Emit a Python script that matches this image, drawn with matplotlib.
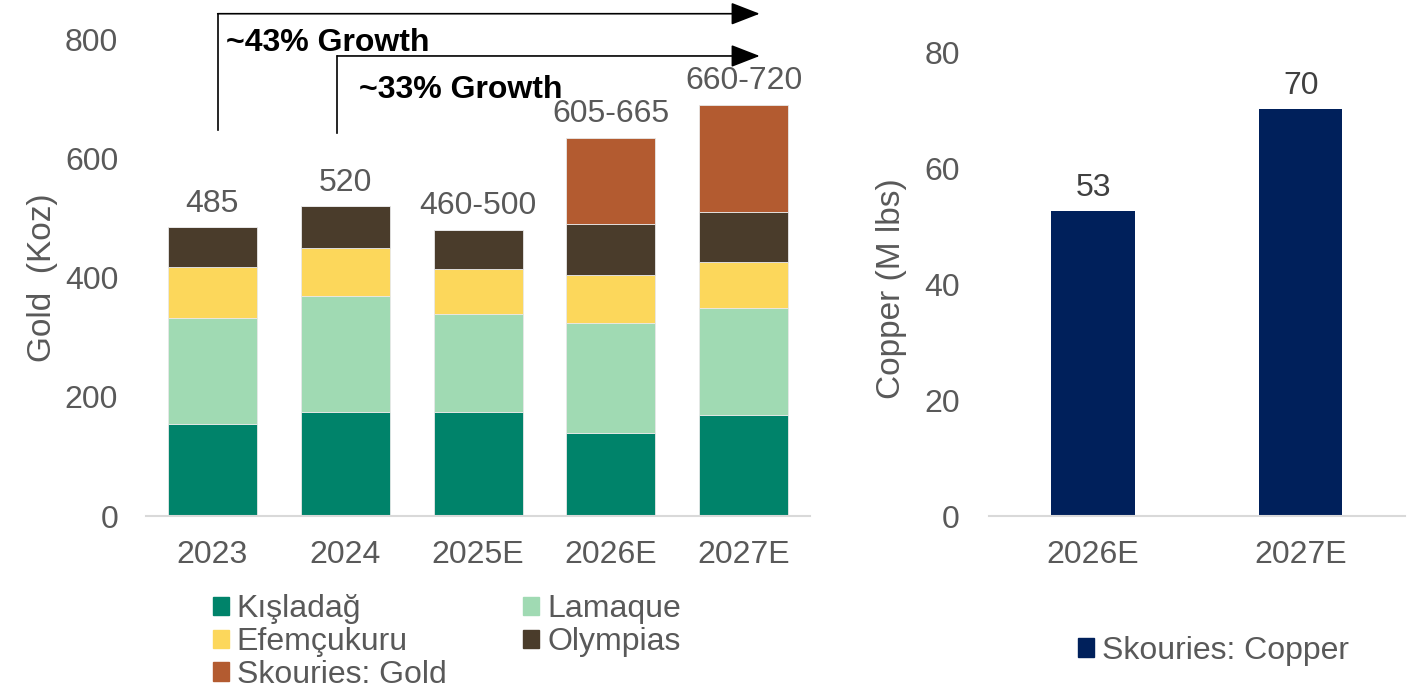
import numpy as np
import matplotlib.pyplot as plt
from matplotlib.patches import Patch

plt.rcParams['font.family'] = ['Liberation Sans', 'DejaVu Sans']

# gold production (Koz)
years = ['2023', '2024', '2025E', '2026E', '2027E']
kisladag = [155, 174, 174, 140, 170]
lamaque = [177, 196, 165, 185, 180]
efemcukuru = [86, 80, 76, 80, 76]
olympias = [67, 71, 66, 86, 85]
skouries_gold = [0, 0, 0, 145, 180]
gold_labels = ['485', '520', '460-500', '605-665', '660-720']

# copper production (M lbs)
cu_years = ['2026E', '2027E']
skouries_cu = [52.6, 70.2]
cu_labels = ['53', '70']

C_KIS = '#00836A'
C_LAM = '#A0DAB3'
C_EFE = '#FCD75B'
C_OLY = '#4A3C2B'
C_SKG = '#B35B30'
C_CU = '#00205B'
GREY = '#595959'
FS = 23

fig = plt.figure(figsize=(14.09, 6.88), dpi=100)
ax1 = fig.add_axes([0.1036, 0.25, 0.4714, 0.692])
ax2 = fig.add_axes([0.702, 0.25, 0.295, 0.674])

x = np.arange(len(years))
bottom = np.zeros(len(years))
series = [(kisladag, C_KIS, 'Kışladağ'), (lamaque, C_LAM, 'Lamaque'),
          (efemcukuru, C_EFE, 'Efemçukuru'), (olympias, C_OLY, 'Olympias'),
          (skouries_gold, C_SKG, 'Skouries: Gold')]
for vals, col, name in series:
    ax1.bar(x, vals, 0.67, bottom=bottom, color=col, edgecolor='#e8e8e8', linewidth=0.6)
    bottom += np.array(vals)

for xi, tot, lab in zip(x, bottom, gold_labels):
    ax1.annotate(lab, (xi, tot), xytext=(0, 6), textcoords='offset points',
                 ha='center', va='bottom', fontsize=FS, color=GREY)

ax1.set_xlim(-0.5, 4.5)
ax1.set_ylim(0, 800)
ax1.set_yticks([0, 200, 400, 600, 800])
ax1.set_xticks(x)
ax1.set_xticklabels(years)
ax1.set_ylabel('Gold  (Koz)', fontsize=24, color=GREY)
ax1.yaxis.set_label_coords(-0.133, 0.5)

# growth arrows
ax1.plot([0.04, 0.04], [649, 844], color='black', lw=1.2, clip_on=False)
ax1.annotate('', xy=(4.12, 844), xytext=(0.04, 844), annotation_clip=False,
             arrowprops=dict(arrowstyle='-|>,head_length=0.9,head_width=0.35',
                             color='black', lw=1.2, mutation_scale=20, shrinkA=0, shrinkB=0))
ax1.plot([0.94, 0.94], [644, 773], color='black', lw=1.2, clip_on=False)
ax1.annotate('', xy=(4.12, 773), xytext=(0.94, 773), annotation_clip=False,
             arrowprops=dict(arrowstyle='-|>,head_length=0.9,head_width=0.35',
                             color='black', lw=1.2, mutation_scale=20, shrinkA=0, shrinkB=0))
ax1.text(0.1, 795, '~43% Growth', fontsize=FS, fontweight='bold', va='center', ha='left')
ax1.text(1.1, 716, '~33% Growth', fontsize=FS, fontweight='bold', va='center', ha='left')

xc = np.arange(len(cu_years))
ax2.bar(xc, skouries_cu, 0.40, color=C_CU)
for xi, v, lab in zip(xc, skouries_cu, cu_labels):
    ax2.annotate(lab, (xi, v), xytext=(0, 6), textcoords='offset points',
                 ha='center', va='bottom', fontsize=FS, color='#404040')
ax2.set_xlim(-0.5, 1.5)
ax2.set_ylim(0, 80)
ax2.set_yticks([0, 20, 40, 60, 80])
ax2.set_xticks(xc)
ax2.set_xticklabels(cu_years)
ax2.set_ylabel('Copper (M lbs)', fontsize=24, color=GREY)
ax2.yaxis.set_label_coords(-0.197, 0.49)

for ax, ypad in ((ax1, 20), (ax2, 21)):
    for s in ('top', 'right', 'left'):
        ax.spines[s].set_visible(False)
    ax.spines['bottom'].set_color('#d9d9d9')
    ax.spines['bottom'].set_linewidth(1.5)
    ax.tick_params(axis='y', length=0, pad=ypad, labelsize=FS, labelcolor=GREY)
    ax.tick_params(axis='x', length=0, pad=17, labelsize=FS, labelcolor=GREY)

# legends
h = {name: Patch(color=col) for _, col, name in series}
order = ['Kışladağ', 'Efemçukuru', 'Skouries: Gold', 'Lamaque', 'Olympias']
fig.legend([h[n] for n in order], order, ncol=2, loc='upper left',
           bbox_to_anchor=(0.151, 0.1365), frameon=False, fontsize=FS,
           labelcolor=GREY, handlelength=0.5, handleheight=0.5, handletextpad=0.25,
           columnspacing=2.4, labelspacing=0.09, borderpad=0, borderaxespad=0)
fig.legend([Patch(color=C_CU)], ['Skouries: Copper'], loc='center left',
           bbox_to_anchor=(0.765, 0.054), frameon=False, fontsize=FS,
           labelcolor=GREY, handlelength=0.5, handleheight=0.5, handletextpad=0.25,
           borderpad=0, borderaxespad=0)

fig.savefig('out.png', dpi=100)
